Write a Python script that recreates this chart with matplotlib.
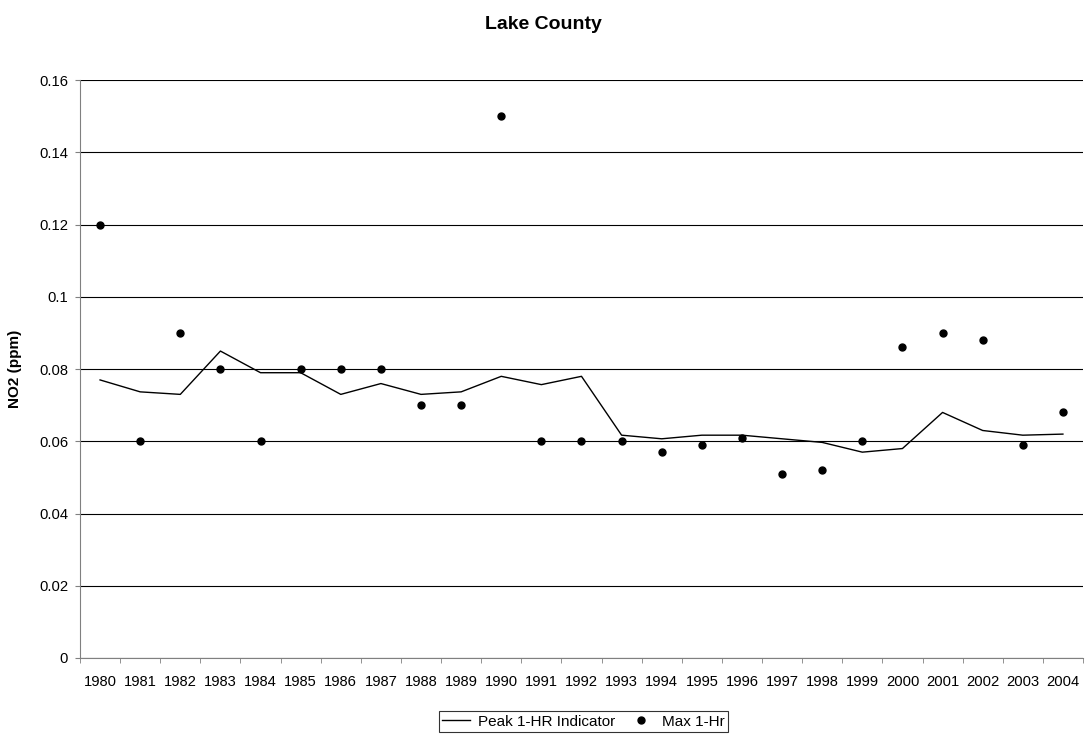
import numpy as np
import matplotlib
matplotlib.use('Agg')
import matplotlib.pyplot as plt

plt.rcParams['font.family'] = ['Liberation Sans', 'DejaVu Sans']

years = [str(y) for y in range(1980, 2005)]
peak_indicator = [0.077, 0.0737, 0.073, 0.085, 0.079, 0.079, 0.073, 0.076, 0.073, 0.0737,
                  0.078, 0.0757, 0.078, 0.0617, 0.0607, 0.0617, 0.0617, 0.0607, 0.0597, 0.057,
                  0.058, 0.068, 0.063, 0.0617, 0.062]
max_1hr = [0.12, 0.06, 0.09, 0.08, 0.06, 0.08, 0.08, 0.08, 0.07, 0.07,
           0.15, 0.06, 0.06, 0.06, 0.057, 0.059, 0.061, 0.051, 0.052, 0.06,
           0.086, 0.09, 0.088, 0.059, 0.068]

x = np.arange(len(years))

fig = plt.figure(figsize=(10.87, 7.36), dpi=100)
ax = fig.add_axes([0.0736, 0.106, 0.9227, 0.785])

ax.plot(x, peak_indicator, color='black', lw=1.0, label='Peak 1-HR Indicator', zorder=3)
ax.plot(x, max_1hr, 'o', color='black', ms=5, label='Max 1-Hr', zorder=4)

ax.set_xlim(-0.5, len(years) - 0.5)
ax.set_ylim(0, 0.16)
ax.set_yticks(np.arange(0, 0.161, 0.02))
ax.set_yticklabels(['0', '0.02', '0.04', '0.06', '0.08', '0.1', '0.12', '0.14', '0.16'])
ax.yaxis.grid(True, color='black', lw=0.8)
ax.set_axisbelow(True)

# category labels centred, tick marks between categories
ax.set_xticks(x)
ax.set_xticklabels(years)
ax.set_xticks(np.arange(-0.5, len(years)), minor=True)
ax.tick_params(axis='x', which='major', length=0, pad=12)
ax.tick_params(axis='x', which='minor', length=3.6, direction='out', color='#808080')
ax.tick_params(axis='y', length=3.6, direction='out', color='#808080', pad=5)
ax.tick_params(labelsize=10.6)

for side in ['top', 'right']:
    ax.spines[side].set_visible(False)
ax.spines['left'].set_color('#808080')
ax.spines['bottom'].set_color('#808080')

ax.set_ylabel('NO2 (ppm)', fontsize=11, fontweight='bold', labelpad=12)
fig.text(0.5, 0.967, 'Lake County', ha='center', va='center', fontsize=14, fontweight='bold')

leg = fig.legend(loc='center', bbox_to_anchor=(0.537, 0.0197), ncol=2, fontsize=11,
                 frameon=True, fancybox=False, edgecolor='black', handlelength=1.8,
                 columnspacing=0.8, borderpad=0.2, handletextpad=0.5)
leg.get_frame().set_linewidth(0.8)

fig.savefig('out.png', dpi=100)
